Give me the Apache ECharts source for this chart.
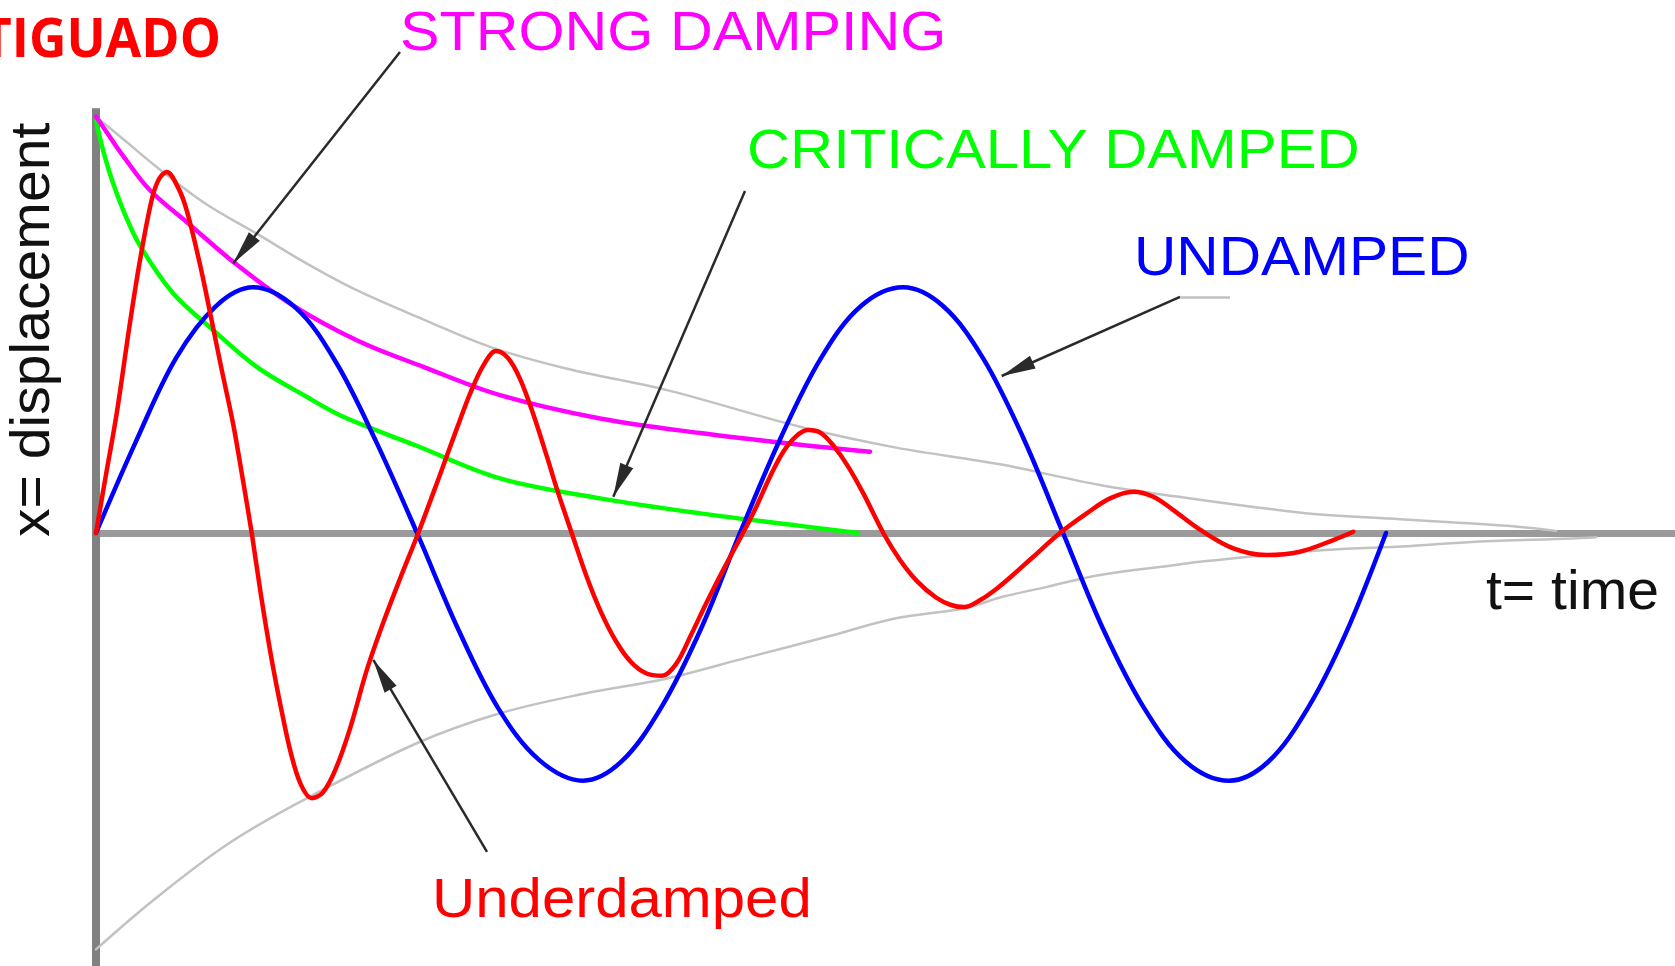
<!DOCTYPE html>
<html>
<head>
<meta charset="utf-8">
<script src="https://cdn.jsdelivr.net/npm/echarts/dist/echarts.min.js"></script>
<style>
html,body{margin:0;padding:0;background:#fff;}
#chart{width:1675px;height:966px;}
</style>
</head>
<body>
<div id="chart"></div>
<script>
// ---- data: [t, x] pairs ----
const underdamped = [[0,0],[0.1,0.14],[0.207,0.287],[0.34,0.505],[0.44,0.655],[0.557,0.8],[0.63,0.85],[0.707,0.867],[0.82,0.83],[0.907,0.775],[1.04,0.645],[1.14,0.53],[1.25,0.4],[1.373,0.26],[1.46,0.14],[1.557,0],[1.65,-0.15],[1.75,-0.295],[1.85,-0.42],[1.95,-0.53],[2.05,-0.605],[2.157,-0.637],[2.27,-0.623],[2.4,-0.565],[2.54,-0.47],[2.707,-0.33],[2.873,-0.215],[3.04,-0.11],[3.223,0],[3.44,0.14],[3.607,0.25],[3.75,0.34],[3.88,0.405],[4.0,0.437],[4.12,0.42],[4.24,0.37],[4.373,0.285],[4.507,0.185],[4.623,0.095],[4.757,0],[4.907,-0.105],[5.05,-0.19],[5.2,-0.26],[5.35,-0.31],[5.5,-0.337],[5.66,-0.343],[5.8,-0.315],[5.95,-0.245],[6.1,-0.17],[6.28,-0.085],[6.47,0],[6.607,0.065],[6.74,0.135],[6.873,0.195],[7.0,0.232],[7.12,0.247],[7.25,0.24],[7.38,0.208],[7.52,0.16],[7.673,0.095],[7.873,0],[8.04,-0.065],[8.207,-0.115],[8.4,-0.155],[8.55,-0.173],[8.68,-0.178],[8.85,-0.16],[9.0,-0.135],[9.15,-0.105],[9.373,-0.057],[9.64,0],[9.907,0.047],[10.14,0.083],[10.373,0.099],[10.573,0.087],[10.773,0.055],[11.04,0.008],[11.373,-0.037],[11.707,-0.053],[12.04,-0.045],[12.373,-0.017],[12.573,0.003]];
const undamped = [[0,0],[0.4,0.22],[0.8,0.42],[1.2,0.545],[1.57,0.59],[2.0,0.54],[2.4,0.41],[2.8,0.22],[3.21,0],[3.62,-0.23],[4.02,-0.42],[4.43,-0.545],[4.87,-0.595],[5.25,-0.55],[5.65,-0.42],[6.05,-0.23],[6.44,0],[6.85,0.23],[7.25,0.42],[7.65,0.545],[8.07,0.59],[8.47,0.545],[8.87,0.42],[9.27,0.23],[9.67,0],[10.07,-0.23],[10.48,-0.42],[10.9,-0.55],[11.33,-0.595],[11.72,-0.55],[12.12,-0.42],[12.5,-0.24],[12.9,0]];
const strongDamping = [[0,1.0],[0.1,0.965],[0.273,0.905],[0.54,0.823],[0.94,0.74],[1.373,0.651],[1.94,0.551],[2.607,0.463],[3.273,0.399],[4.04,0.331],[5.04,0.275],[6.04,0.240],[7.04,0.212],[7.74,0.195]];
const criticallyDamped = [[0,0.99],[0.07,0.92],[0.15,0.855],[0.273,0.775],[0.44,0.69],[0.773,0.575],[1.173,0.487],[1.607,0.399],[2.107,0.327],[2.473,0.279],[3.2,0.21],[4.04,0.131],[5.04,0.083],[6.04,0.047],[7.04,0.017],[7.62,0.0]];
const envelopeUpper = [[0,1.0],[0.3,0.94],[0.607,0.879],[1.1,0.79],[1.607,0.719],[2.1,0.648],[2.607,0.583],[3.3,0.51],[3.94,0.447],[4.7,0.395],[5.71,0.343],[7.04,0.255],[8.0,0.205],[9.04,0.165],[10.04,0.115],[10.79,0.088],[11.5,0.065],[12.12,0.047],[13.04,0.033],[13.46,0.027],[14.22,0.015],[14.6,0.005]];
const envelopeLower = [[0,-1.0],[0.573,-0.882],[1.3,-0.75],[2.04,-0.646],[3.207,-0.505],[4.04,-0.433],[4.9,-0.385],[5.7,-0.35],[6.5,-0.30],[7.3,-0.25],[8.0,-0.205],[8.7,-0.18],[9.04,-0.155],[9.5,-0.13],[10.04,-0.101],[10.79,-0.077],[11.04,-0.069],[12.29,-0.041],[13.12,-0.032],[13.79,-0.021],[14.76,-0.013],[15.0,-0.01]];
const displacementAxis = [[0,-1.04],[0,1.02]];
// annotation arrows: [from, to] in data units
const arrowStrong = [[3.04,1.155],[1.373,0.648]];
const arrowCritical = [[6.49,0.821],[5.173,0.087]];
const arrowUndamped = [[10.84,0.567],[9.057,0.377]];
const stubUndamped = [[11.34,0.567],[10.84,0.567]];
const arrowUnder = [[3.91,-0.766],[2.773,-0.305]];
// texts
const labels = {
  title: 'TIGUADO', strong: 'STRONG DAMPING', critical: 'CRITICALLY DAMPED',
  undamped: 'UNDAMPED', under: 'Underdamped', xName: 't= time', yName: 'x= displacement'
};

const chart = echarts.init(document.getElementById('chart'), null, {renderer: 'canvas'});
const LBL = '"Liberation Sans", Arial, sans-serif';
function curve(name, data, color, width, z) {
  return {name, type:'line', data, symbol:'none', showSymbol:false, smooth:0.35, silent:true, z,
    lineStyle:{color, width, cap:'round', join:'round'}};
}
function arrow(pair) {
  return [{coord: pair[0]}, {coord: pair[1]}];
}
chart.setOption({
  animation:false,
  backgroundColor:'#ffffff',
  grid:{left:96, right:0, top:0, bottom:0, containLabel:false},
  xAxis:{type:'value', min:0, max:15.79, axisLine:{show:true, onZero:true, lineStyle:{color:'#9a9a9a', width:7}},
    axisTick:{show:false}, axisLabel:{show:false}, splitLine:{show:false}},
  yAxis:{type:'value', min:-1.04, max:1.28, axisLine:{show:false}, axisTick:{show:false}, axisLabel:{show:false}, splitLine:{show:false}},
  series:[
    {type:'line', data:displacementAxis, symbol:'none', clip:false, silent:true, z:1, lineStyle:{color:'#808080', width:8}},
    curve('envUpper', envelopeUpper, '#c2c2c2', 2.5, 2),
    curve('envLower', envelopeLower, '#c2c2c2', 2.5, 2),
    curve('critical', criticallyDamped, '#00ff00', 4.5, 3),
    curve('strong', strongDamping, '#ff00ff', 4.5, 4),
    curve('undamped', undamped, '#0000ff', 4.5, 5),
    curve('underdamped', underdamped, '#ff0000', 4.5, 6),
    {type:'line', data:[], z:8, silent:true,
      markLine:{silent:true, animation:false, symbol:['none','triangle'], symbolSize:[14,34], symbolOffset:[[0,0],[0,'50%']],
        label:{show:false}, lineStyle:{type:'solid', color:'#2a2a2a', width:2.5},
        itemStyle:{color:'#000000'},
        emphasis:{disabled:true},
        data:[arrow(arrowStrong), arrow(arrowCritical), arrow(arrowUndamped), arrow(arrowUnder)]}},
    {type:'line', data:[], z:7, silent:true,
      markLine:{silent:true, animation:false, symbol:['none','none'], label:{show:false},
        lineStyle:{type:'solid', color:'#c0c0c0', width:2.5}, emphasis:{disabled:true},
        data:[arrow(stubUndamped)]}}
  ],
  graphic:[
    {type:'text', x:221, y:42, scaleX:0.96, style:{text:labels.title, fill:'#ff0000', font:'bold 54px "Open Sans", "Noto Sans", sans-serif', textAlign:'right', textVerticalAlign:'middle', verticalAlign:'middle'}},
    {type:'text', x:400, y:35, scaleX:1.058, style:{text:labels.strong, fill:'#ff00ff', font:'56px '+LBL, textAlign:'left', textVerticalAlign:'middle', verticalAlign:'middle'}},
    {type:'text', x:747, y:153, scaleX:1.066, style:{text:labels.critical, fill:'#00ff00', font:'56px '+LBL, textAlign:'left', textVerticalAlign:'middle', verticalAlign:'middle'}},
    {type:'text', x:1134, y:260, scaleX:1.047, style:{text:labels.undamped, fill:'#0000ff', font:'56px '+LBL, textAlign:'left', textVerticalAlign:'middle', verticalAlign:'middle'}},
    {type:'text', x:432, y:902, scaleX:1.07, style:{text:labels.under, fill:'#ff0000', font:'56px '+LBL, textAlign:'left', textVerticalAlign:'middle', verticalAlign:'middle'}},
    {type:'text', x:1486, y:594, scaleX:1.02, style:{text:labels.xName, fill:'#111111', font:'56px '+LBL, textAlign:'left', textVerticalAlign:'middle', verticalAlign:'middle'}},
    {type:'text', x:34, y:537, rotation:Math.PI/2, scaleX:1.02, style:{text:labels.yName, fill:'#111111', font:'56px '+LBL, textAlign:'left', textVerticalAlign:'middle', verticalAlign:'middle'}}
  ]
});
</script>
</body>
</html>
